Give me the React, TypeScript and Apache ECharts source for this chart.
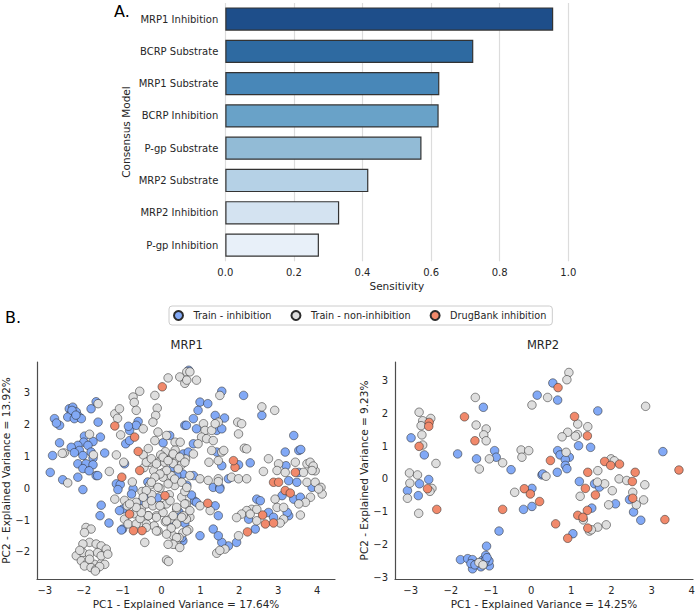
import React, { useEffect, useRef } from "react";
import * as echarts from "echarts";

// Panel A: sensitivity of each consensus model
const modelNames = [
  "MRP1 Inhibition",
  "BCRP Substrate",
  "MRP1 Substrate",
  "BCRP Inhibition",
  "P-gp Substrate",
  "MRP2 Substrate",
  "MRP2 Inhibition",
  "P-gp Inhibition",
];
const sensitivity = [0.956, 0.723, 0.624, 0.622, 0.572, 0.417, 0.332, 0.273];
const sensitivityTicks = [0, 0.2, 0.4, 0.6, 0.8, 1.0];

// Panel B: PCA projections (PC1, PC2)
const mrp1TrainInhibition: number[][] = [
  [-2.37, 2.5], [-2.28, 2.55], [-2.32, 2.34], [-2.19, 2.4], [-2.11, 2.24], [-2.41, 2.24], [-2.24, 2.19], [-2.06, 2.19], [-2.3, 2.45], [-2.2, 2.3],
  [-1.81, 2.5], [-1.68, 2.72], [-2.75, 2.19], [-2.62, 1.98], [-1.63, 2.08], [-2.7, 2.05],
  [-1.98, 1.64], [-1.57, 1.61], [-2.0, 1.45], [-1.76, 1.47], [-1.89, 1.35], [-2.15, 1.35], [-2.32, 1.29], [-2.11, 1.19], [-1.81, 1.14], [-2.24, 1.12],
  [-2.62, 1.43], [-2.8, 1.03], [-1.46, 1.11], [-2.02, 1.03], [-1.76, 0.95], [-2.15, 0.77], [-1.94, 0.77], [-1.76, 0.74], [-2.02, 0.62], [-1.68, 0.4], [-1.86, 0.55],
  [-2.86, 0.5], [-2.54, 0.27], [-2.15, 0.35], [-2.02, -0.04], [-1.64, 0.4], [-1.16, 0.14], [-1.06, 0.12], [-0.73, -0.02], [-1.12, -0.04],
  [-1.55, -0.53], [-1.58, -0.86], [-1.35, -1.09], [-0.99, -0.65], [-1.0, -1.28], [-1.08, -0.7], [-1.03, -1.31],
  [-0.6, 2.1], [-0.65, 1.98], [-0.82, 1.82], [-0.92, 1.4], [-0.82, 1.5], [0.04, 1.43], [0.21, 1.66], [0.56, 1.08], [0.6, 1.98], [0.7, 3.71], [-0.85, 1.95],
  [0.3, 0.66], [0.55, 0.45], [-0.35, 0.2], [0.65, 0.1], [-0.1, -0.3], [0.45, -0.75], [0.6, -1.1], [0.55, -1.65], [0.85, -0.4], [-0.5, -0.4], [-0.43, -0.28],
  [0.39, 0.4], [0.52, -1.55], [0.3, -1.13], [-0.77, -0.18], [-0.95, 0.77],
  [1.55, 3.05], [2.11, 2.92], [0.99, 2.71], [1.19, 2.66], [2.58, 2.29], [0.94, 2.45], [1.38, 2.29], [1.62, 2.21], [0.82, 2.19], [0.9, 1.87], [1.42, 1.82],
  [0.64, 1.98], [0.69, 1.14], [1.42, 1.14], [3.4, 1.66], [3.18, 1.14], [3.53, 1.19], [3.58, 1.22], [1.55, 0.71], [1.98, 0.74], [2.28, 0.8], [3.2, 0.71], [3.53, 0.5],
  [0.82, 1.4], [1.55, 1.87], [1.33, 0.03], [1.5, 0.03], [0.82, 0.4],
  [1.5, -0.02], [1.72, 0.3], [3.27, 0.24], [3.48, 0.19], [3.1, -0.23], [3.4, -0.34], [3.57, -0.28], [3.27, -0.86], [0.77, -0.21], [0.9, -0.44], [1.38, -0.55],
  [1.46, -0.86], [2.45, -0.34], [2.75, -0.76], [2.88, -0.91], [2.24, -0.97], [2.41, -1.28], [1.93, -1.7], [1.72, -1.81], [1.55, -1.7], [1.46, -1.49],
  [1.33, -1.28], [0.99, -1.49], [2.54, -0.39], [3.23, -0.76], [3.87, 0.03],
];
const mrp1TrainNonInhibition: number[][] = [
  [-1.63, 2.66], [-1.85, 1.7], [-2.5, 1.11], [-2.55, 1.1], [-2.41, 0.17], [-1.34, 0.53], [-1.75, 1.05],
  [-1.2, 2.34], [-1.08, 2.5], [-1.13, 2.2], [-0.73, 2.87], [-0.56, 3.05], [-0.7, 2.7], [-0.65, 2.45], [-0.17, 2.92], [-0.11, 2.52], [-0.15, 2.29], [-0.22, 2.08],
  [0.17, 3.47], [0.47, 3.5], [0.65, 3.66], [0.6, 3.3], [-0.47, 1.87], [-1.05, 1.68], [-1.16, 1.05], [-0.97, 0.82], [-0.47, 1.05], [-0.34, 1.25], [-0.17, 1.5],
  [-0.09, 1.77], [0.13, 1.66], [0.35, 1.45], [0.48, 1.45], [0.35, 1.2], [0.1, 1.15], [-0.02, 1.05], [0.22, 0.9], [0.4, 0.95], [0.62, 0.92], [-0.09, 0.82],
  [0.08, 0.82], [0.3, 0.78], [0.52, 0.75], [-0.3, 0.82], [-0.45, 0.65], [-0.2, 0.55], [0.05, 0.5], [0.25, 0.4],
  [0.73, 3.66], [0.65, 3.4], [0.9, 3.4], [1.5, 2.92], [2.58, 2.56], [2.91, 2.45], [1.46, 2.08], [1.96, 2.08], [2.06, 2.03], [1.98, 1.71], [1.08, 2.03],
  [1.12, 1.82], [1.29, 1.82], [1.38, 2.03], [1.03, 1.61], [1.16, 1.56], [1.33, 1.5], [0.94, 1.4], [0.82, 1.08], [1.29, 1.19], [1.55, 1.14], [1.6, 1.19],
  [2.13, 1.26], [2.19, 1.24], [1.22, 0.82], [1.46, 0.87], [2.75, 0.93], [3.01, 0.77], [3.44, 0.82], [3.74, 0.77], [3.82, 0.82], [3.95, 0.55], [3.9, 0.7],
  [0.73, 0.4], [0.99, 0.3], [1.2, 0.25], [1.46, 0.3], [1.46, 0.21], [1.8, 0.35], [1.98, 0.3], [2.19, 0.3], [2.62, 0.53], [2.97, 0.56], [3.18, 0.5],
  [3.65, 0.5], [3.87, 0.56], [3.74, 0.19], [3.95, 0.19], [4.1, 0.03], [4.13, -0.18], [4.04, -0.02], [3.83, -0.28], [3.7, -0.44], [3.53, -0.49], [2.92, -0.34],
  [2.97, -0.6], [3.14, -0.6], [3.14, -0.97], [3.57, -0.84], [3.05, -1.09], [0.64, -0.49], [0.99, -0.55], [1.25, -0.7], [0.73, -0.91], [0.64, -0.97],
  [2.32, -0.66], [2.19, -0.7], [2.06, -0.81], [1.93, -0.92], [2.28, -0.81], [2.45, -0.66], [2.45, -1.02], [1.98, -1.49], [1.63, -1.91], [1.42, -2.04], [1.5, -1.95],
  [-1.2, -0.34], [-0.95, -0.38], [-0.95, -0.97], [-0.86, -1.12], [-0.65, -1.12], [-0.39, -1.12], [-0.34, -0.86], [-0.52, -0.65], [-0.65, -0.44],
  [-0.39, -0.49], [-0.22, -0.55], [-0.13, -0.86], [-0.19, -1.18], [-0.09, -1.34], [-0.43, -1.7], [0.0, -0.55], [0.13, -0.49], [0.04, -0.76], [0.22, -0.97],
  [-0.04, 0.0], [0.04, 0.35], [0.34, 0.09], [0.52, -0.28], [0.39, -0.65], [0.56, -0.86], [0.39, -1.12], [0.3, -1.49], [0.39, -1.76], [0.13, -2.25], [0.18, -2.3],
  [-0.88, -0.55], [-0.7, -0.8], [-0.55, -0.95], [0.1, -1.05], [0.25, -1.25], [0.7, -1.3], [0.55, -1.4], [0.45, -1.55], [-0.25, -0.2], [-0.5, -0.1],
  [0.2, -0.2], [0.6, -0.1], [-0.75, 0.2], [-0.3, 0.1],
  [-0.39, 0.82], [-0.26, 0.93], [-0.13, 0.77], [0.04, 0.98], [0.17, 0.87], [0.3, 1.08], [0.47, 0.98], [0.6, 0.82], [0.43, 0.61], [0.13, 0.56],
  [-0.04, 0.45], [-0.17, 0.35], [-0.26, 0.19], [-0.09, 0.03], [0.17, 0.14], [0.34, 0.29], [0.52, 0.19], [0.65, 0.03], [-0.39, -0.07], [-0.47, -0.28],
  [-0.26, -0.39], [-0.04, -0.55], [0.22, -0.39], [0.39, -0.6], [0.6, -0.49], [0.73, -0.7], [0.52, -0.91], [0.3, -0.86], [0.13, -1.02], [-0.13, -0.91],
  [-0.34, -0.86], [-0.52, -0.76], [-0.65, -0.6], [-0.82, -0.49], [-0.39, -1.23], [-0.13, -1.34], [0.13, -1.44], [0.39, -1.55], [0.65, -1.34],
  [0.3, -1.76], [0.47, -1.86], [0.17, -1.76],
  [-1.94, -1.23], [-1.81, -1.28], [-1.98, -1.39], [-1.85, -1.7], [-2.02, -1.75], [-1.68, -1.75], [-1.55, -1.81], [-1.42, -1.91], [-2.19, -2.12],
  [-2.02, -2.02], [-1.85, -2.07], [-1.64, -2.02], [-2.06, -2.28], [-1.89, -2.33], [-1.72, -2.39], [-1.55, -2.36], [-1.46, -2.39], [-1.98, -2.44],
  [-1.81, -2.49], [-1.68, -2.54], [-1.59, -2.46], [-1.85, -2.23], [-1.55, -2.12], [-1.38, -2.07], [-2.1, -1.95], [-1.7, -2.6],
];
const mrp1DrugBank: number[][] = [
  [0.02, 3.19], [-1.2, 1.96], [-0.69, 1.61], [-0.6, 1.16], [-1.02, 0.35], [-0.56, 0.56], [-0.82, -0.81], [-0.72, -1.33], [-0.5, -1.33], [0.09, -0.23],
  [1.89, 0.66], [1.85, 0.87], [1.19, -0.47], [2.6, -0.84], [2.67, -1.12], [2.88, -1.09], [2.21, -1.37], [2.88, 0.19], [3.01, 0.19], [3.18, -0.07],
  [3.31, -0.15], [3.44, 0.5],
];

const mrp2TrainInhibition: number[][] = [
  [-1.19, 2.18], [-1.83, 0.76], [-1.36, 0.61], [-0.91, 0.86], [-0.87, 0.66], [-0.5, 0.28], [0.15, 2.55], [-2.99, 1.25], [-2.66, 0.73], [-2.78, -0.15],
  [-2.55, -0.02], [-3.08, -0.36], [-2.81, -0.51], [0.02, -0.29], [0.02, -0.84], [-0.19, -0.93], [-0.8, -1.59],
  [-1.11, -2.05], [-1.76, -2.46], [-1.58, -2.43], [-1.46, -2.46], [-1.46, -2.74], [-1.33, -2.58], [-1.21, -2.48], [-1.13, -2.33], [-1.04, -2.65],
  [-1.17, -2.58], [-1.25, -2.68], [-1.5, -2.58], [-1.05, -2.5], [-1.15, -2.5], [-1.4, -2.62], [-1.1, -2.4],
  [0.27, 0.12], [0.54, 2.92], [0.66, 2.4], [1.66, 2.07], [1.18, 1.01], [1.48, 0.96], [0.66, 0.86], [0.72, 0.73], [0.95, 0.66], [0.85, 0.59], [0.85, 0.41],
  [0.89, 0.31], [0.65, 0.2], [0.29, 0.15], [1.2, -0.08], [1.58, -0.15], [1.7, -0.25], [2.45, -0.63], [2.55, -1.01], [2.73, -1.26], [3.28, 0.83],
  [2.1, -0.76], [1.51, -0.89], [1.04, -1.67],
];
const mrp2TrainNonInhibition: number[][] = [
  [-1.39, 2.48], [-1.37, 1.64], [-1.12, 1.52], [-1.18, 1.34], [-1.12, 1.16], [-1.29, 0.3], [-1.04, 0.61], [-0.71, 0.49], [-0.25, 0.88], [-0.06, 0.86],
  [-0.23, 0.66], [0.02, 2.25], [-2.79, 2.03], [-2.7, 1.77], [-2.5, 1.84], [-2.74, 1.62], [-2.72, 1.34], [-2.7, 1.03], [-2.37, 0.47], [-3.03, 0.18],
  [-2.83, 0.12], [-3.02, -0.13], [-2.47, -0.29], [-2.52, -0.38], [-3.08, -0.59], [-2.8, -1.05], [-0.41, -0.41], [-1.3, -2.55], [-1.2, -2.62],
  [0.94, 3.24], [0.89, 3.02], [0.41, 2.48], [2.85, 2.21], [1.16, 1.67], [1.41, 1.59], [0.91, 1.42], [0.77, 1.28], [1.15, 1.35], [1.1, 1.3], [0.87, 0.81],
  [0.37, 0.08], [1.99, 0.61], [1.66, 0.25], [2.19, 0.0], [2.38, -0.05], [2.83, -0.18], [1.83, -0.15], [2.02, -0.36], [1.22, -0.53], [2.53, -0.41],
  [2.8, -0.64], [2.62, -0.79], [1.93, -0.79], [1.3, -1.25], [1.45, -1.59], [1.66, -1.47], [1.87, -1.4], [1.5, -1.55], [1.65, -0.1], [2.07, 0.55],
];
const mrp2DrugBank: number[][] = [
  [-1.66, 1.89], [-1.4, 1.16], [-2.54, 1.72], [-2.55, 1.6], [-2.79, 0.99], [-2.58, -0.3], [-2.35, -0.93], [-0.17, -0.3], [-0.02, -0.46], [0.21, -0.69],
  [-0.71, -0.93], [0.67, 2.78], [1.08, 1.9], [1.4, 1.31], [0.48, 0.56], [1.83, 0.53], [1.98, 0.41], [2.2, 0.45], [1.41, 0.2], [2.59, 0.2], [2.52, -0.08],
  [1.35, -0.29], [1.6, -0.49], [2.53, -0.59], [3.33, -1.24], [3.68, 0.27], [1.4, -0.96], [1.16, -1.11], [1.29, -1.17], [0.61, -1.37], [0.91, -1.81],
  [1.41, -1.5],
];

const seriesNames = ["Train - inhibition", "Train - non-inhibition", "DrugBank inhibition"];
const pcTicksX = [-3, -2, -1, 0, 1, 2, 3, 4];
const mrp1TicksY = [-2, -1, 0, 1, 2, 3];
const mrp2TicksY = [-3, -2, -1, 0, 1, 2, 3];

const barPalette = ["#1e4e8a", "#2e6aa1", "#4887b8", "#69a2c8", "#92bbd6", "#b5d1e6", "#d4e3f1", "#e8f0f9"];
const pointColors = ["#82a9f6", "#dedede", "#f1896b"];
const FONT = "DejaVu Sans";
const TEXT = "#262626";

const minus = (v: number) => String(v).replace("-", "\u2212");

function pcaAxes(gridIndex: number, xMin: number, xMax: number, yMin: number, yMax: number, yTicks: number[], xName: string, yName: string, yGap: number) {
  const line = { show: true, onZero: false, lineStyle: { color: "#4d4d4d", width: 1.2 } };
  const x = {
    type: "value", gridIndex, min: xMin, max: xMax,
    axisLine: line, axisTick: { show: false }, splitLine: { show: false },
    axisLabel: { customValues: pcTicksX, formatter: minus, fontSize: 10, color: TEXT, fontFamily: FONT, margin: 6 },
    name: xName, nameLocation: "middle", nameGap: 19,
    nameTextStyle: { fontSize: 10.5, color: TEXT, fontFamily: FONT, verticalAlign: "top" },
  };
  const y = {
    type: "value", gridIndex, min: yMin, max: yMax,
    axisLine: line, axisTick: { show: false }, splitLine: { show: false },
    axisLabel: { customValues: yTicks, formatter: minus, fontSize: 10, color: TEXT, fontFamily: FONT, margin: 7 },
    name: yName, nameLocation: "middle", nameGap: yGap,
    nameTextStyle: { fontSize: 10.5, color: TEXT, fontFamily: FONT },
  };
  return { x, y };
}

function scatter(name: string, data: number[][], color: string, idx: number) {
  return {
    type: "scatter", name, data, xAxisIndex: idx, yAxisIndex: idx,
    symbol: "circle", symbolSize: 8.5,
    itemStyle: { color, borderColor: "#2b2b2b", borderWidth: 0.55, opacity: 1 },
    emphasis: { disabled: true },
  };
}

export default function App() {
  const ref = useRef<HTMLDivElement>(null);

  useEffect(() => {
    if (!ref.current) return;
    const chart = echarts.init(ref.current, null, { renderer: "svg" });

    const a1 = pcaAxes(1, -3.2, 4.46, -2.85, 3.97, mrp1TicksY, "PC1 - Explained Variance = 17.64%", "PC2 - Explained Variance = 13.92%", 24);
    const a2 = pcaAxes(2, -3.39, 4.03, -3.05, 3.56, mrp2TicksY, "PC1 - Explained Variance = 14.25%", "PC2 - Explained Variance = 9.23%", 25);

    chart.setOption({
      animation: false,
      textStyle: { fontFamily: FONT },
      grid: [
        { left: 225.3, top: 2.9, width: 343, height: 258.3, containLabel: false, outerBoundsMode: "none" },
        { left: 37, top: 362, width: 298, height: 217, containLabel: false, outerBoundsMode: "none" },
        { left: 395, top: 362, width: 298, height: 217, containLabel: false, outerBoundsMode: "none" },
      ],
      xAxis: [
        {
          type: "value", gridIndex: 0, min: 0, max: 1, interval: 0.2,
          axisLine: { show: false }, axisTick: { show: false },
          splitLine: { show: true, lineStyle: { color: "#dcdcdc", width: 1.2 } },
          axisLabel: { customValues: sensitivityTicks, formatter: (v: number) => v.toFixed(1), fontSize: 10, color: TEXT, fontFamily: FONT, margin: 6 },
          name: "Sensitivity", nameLocation: "middle", nameGap: 19,
          nameTextStyle: { fontSize: 10.5, color: TEXT, fontFamily: FONT, verticalAlign: "top" },
        },
        a1.x, a2.x,
      ],
      yAxis: [
        {
          type: "category", gridIndex: 0, data: modelNames, inverse: true,
          axisLine: { show: false }, axisTick: { show: false },
          axisLabel: { fontSize: 10, color: TEXT, fontFamily: FONT, margin: 7 },
          name: "Consensus Model", nameLocation: "middle", nameGap: 94,
          nameTextStyle: { fontSize: 10.5, color: TEXT, fontFamily: FONT },
        },
        a1.y, a2.y,
      ],
      legend: {
        data: seriesNames,
        left: 169, top: 306,
        orient: "horizontal",
        icon: "circle", itemWidth: 20, itemHeight: 9, itemGap: 19,
        padding: [4, 6, 4, 4],
        borderColor: "#cccccc", borderWidth: 1, borderRadius: 3,
        textStyle: { fontSize: 9.7, color: TEXT, fontFamily: FONT },
        selectedMode: false,
      },
      graphic: [
        { type: "text", left: 114, top: 3, style: { text: "A.", fontSize: 16, fill: "#000", fontFamily: FONT } },
        { type: "text", left: 5, top: 309, style: { text: "B.", fontSize: 16, fill: "#000", fontFamily: FONT } },
        { type: "text", x: 186.7, y: 345, style: { text: "MRP1", fontSize: 11.5, fill: TEXT, fontFamily: FONT, align: "center", verticalAlign: "middle" } },
        { type: "text", x: 543, y: 345, style: { text: "MRP2", fontSize: 11.5, fill: TEXT, fontFamily: FONT, align: "center", verticalAlign: "middle" } },
      ],
      series: [
        {
          type: "bar", xAxisIndex: 0, yAxisIndex: 0,
          barCategoryGap: "28%",
          data: sensitivity.map((v, i) => ({ value: v, itemStyle: { color: barPalette[i] } })),
          itemStyle: { borderColor: "#333333", borderWidth: 1.2 },
          emphasis: { disabled: true },
        },
        scatter(seriesNames[0], mrp1TrainInhibition, pointColors[0], 1),
        scatter(seriesNames[1], mrp1TrainNonInhibition, pointColors[1], 1),
        scatter(seriesNames[2], mrp1DrugBank, pointColors[2], 1),
        scatter(seriesNames[0], mrp2TrainInhibition, pointColors[0], 2),
        scatter(seriesNames[1], mrp2TrainNonInhibition, pointColors[1], 2),
        scatter(seriesNames[2], mrp2DrugBank, pointColors[2], 2),
      ],
    });

    return () => chart.dispose();
  }, []);

  return <div ref={ref} style={{ width: 696, height: 611, position: "absolute", left: 0, top: 0, background: "#fff" }} />;
}
